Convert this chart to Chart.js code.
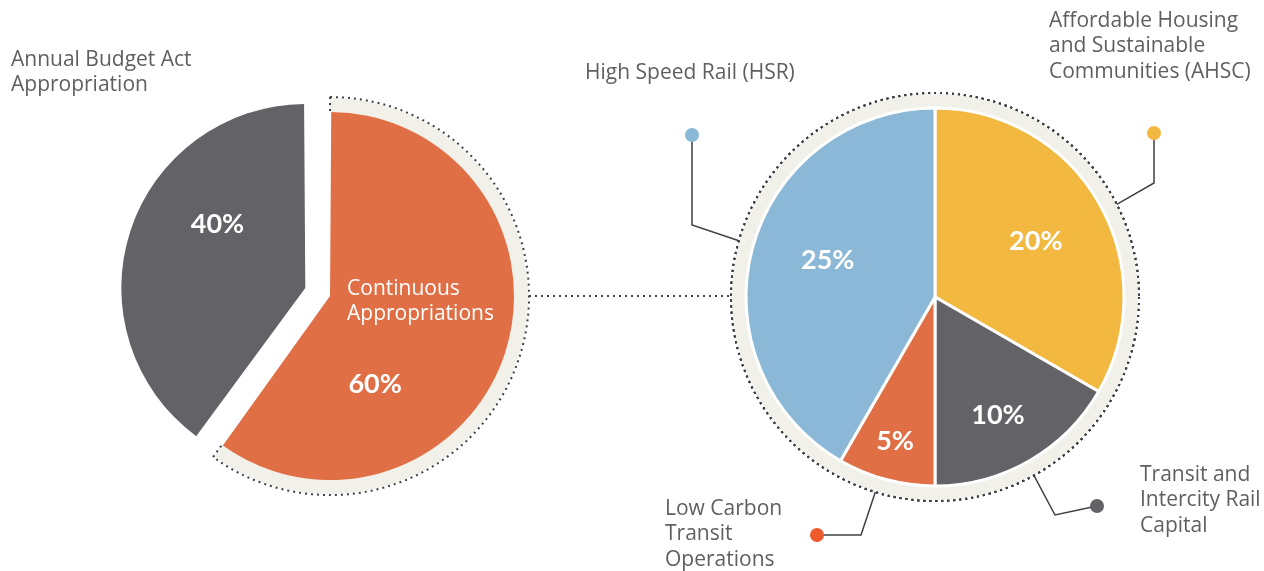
<!DOCTYPE html>
<html>
<head>
<meta charset="utf-8">
<title>Funding split</title>
<script src="https://cdn.jsdelivr.net/npm/chart.js@4.4.1/dist/chart.umd.min.js"></script>
<style>
  body { margin: 0; background: #fff; }
  #wrap { position: relative; width: 1264px; height: 571px; }
  #wrap canvas { position: absolute; left: 0; top: 0; }
</style>
</head>
<body>
<div id="wrap">
  <canvas id="leftPie" width="1264" height="571"></canvas>
  <canvas id="rightPie" width="1264" height="571"></canvas>
</div>
<script>
// overall split
const overallLabels = ['Continuous Appropriations', 'Annual Budget Act Appropriation'];
const overallValues = [60, 40];
const overallColors = ['#e06f45', '#636267'];

// breakdown of the continuous appropriations (clockwise from top)
const caLabels = ['Affordable Housing and Sustainable Communities (AHSC)', 'Transit and Intercity Rail Capital', 'Low Carbon Transit Operations', 'High Speed Rail (HSR)'];
const caValues = [20, 10, 5, 25];
const caColors = ['#f2b840', '#636267', '#e06f45', '#8bb8d6'];
const caDotColors = ['#f2b840', '#636267', '#ee5a2c', '#8bb8d6'];

const BEIGE = '#f1f0e9';
const INK = '#3e4046';
const TEXT = '#5f5f61';
const FONT = '"Open Sans", Lato, sans-serif';
const BOLD = 'Lato, "Open Sans", sans-serif';

const deg = Math.PI / 180;

// where Chart.js (v4) actually paints an arc that has an offset:
// it moves it by offset/4 and grows the radius by offset/4 * (1 - sin(circ))
function arcGeom(arc) {
  const o = (arc.options.offset || 0) / 4;
  const circ = arc.endAngle - arc.startAngle;
  const fix = 1 - Math.sin(Math.min(Math.PI, circ));
  const mid = (arc.startAngle + arc.endAngle) / 2;
  return { x: arc.x + Math.cos(mid) * o, y: arc.y + Math.sin(mid) * o, r: arc.outerRadius + o * fix };
}

function dotted(ctx) {
  ctx.strokeStyle = INK;
  ctx.lineWidth = 2;
  ctx.setLineDash([2, 4]);
}

const ringPlugin = {
  id: 'ring',
  beforeDatasetsDraw(chart, args, opts) {
    const ctx = chart.ctx;
    const arcs = chart.getDatasetMeta(0).data;
    const full = opts.slices.every(s => s);
    ctx.save();
    arcs.forEach((arc, i) => {
      if (!opts.slices[i]) return;
      const c = arcGeom(arc);
      const r0 = c.r, r1 = c.r + opts.width;
      const a0 = full ? 0 : arc.startAngle, a1 = full ? Math.PI * 2 : arc.endAngle;
      ctx.beginPath();
      ctx.arc(c.x, c.y, r1, a0, a1);
      ctx.arc(c.x, c.y, r0 - 1, a1, a0, true);
      ctx.closePath();
      ctx.fillStyle = BEIGE;
      ctx.fill();
      dotted(ctx);
      ctx.beginPath();
      ctx.arc(c.x, c.y, r1 + 1, a0, a1);
      ctx.stroke();
      if (!full) {
        [a0, a1].forEach(a => {
          ctx.beginPath();
          ctx.moveTo(c.x + Math.cos(a) * (r1 + 1), c.y + Math.sin(a) * (r1 + 1));
          ctx.lineTo(c.x + Math.cos(a) * r0, c.y + Math.sin(a) * r0);
          ctx.stroke();
        });
      }
      ctx.setLineDash([]);
    });
    ctx.restore();
  }
};

const textPlugin = {
  id: 'texts',
  afterDatasetsDraw(chart, args, opts) {
    const ctx = chart.ctx;
    const arcs = chart.getDatasetMeta(0).data;
    const values = chart.data.datasets[0].data;
    ctx.save();
    ctx.textBaseline = 'middle';
    // percentages inside slices
    arcs.forEach((arc, i) => {
      const c = arcGeom(arc);
      const p = opts.pct[i];
      const a = (arc.startAngle + arc.endAngle) / 2 + p[0] * deg;
      const r = c.r * p[1];
      ctx.fillStyle = '#fff';
      ctx.font = 'bold 27px ' + BOLD;
      ctx.textAlign = 'center';
      ctx.fillText(values[i] + '%', c.x + Math.cos(a) * r, c.y + Math.sin(a) * r);
    });
    // white caption inside a slice
    (opts.inner || []).forEach(t => {
      const c = arcGeom(arcs[t.slice]);
      ctx.fillStyle = '#fff';
      ctx.font = '21px ' + FONT;
      ctx.textAlign = 'left';
      t.lines.forEach((ln, k) => ctx.fillText(ln, c.x + t.dx, c.y + t.dy + k * 25));
    });
    // leader lines with dots
    (opts.leaders || []).forEach(l => {
      const arc = arcs[l.slice];
      const c = arcGeom(arc);
      const a = (arc.startAngle + arc.endAngle) / 2 + l.da * deg;
      const r = c.r + opts.ringWidth + 1;
      ctx.strokeStyle = INK;
      ctx.lineWidth = 1.5;
      ctx.beginPath();
      ctx.moveTo(c.x + Math.cos(a) * r, c.y + Math.sin(a) * r);
      ctx.lineTo(l.elbow[0], l.elbow[1]);
      ctx.lineTo(l.dot[0], l.dot[1]);
      ctx.stroke();
      ctx.fillStyle = caDotColors[l.slice];
      ctx.beginPath();
      ctx.arc(l.dot[0], l.dot[1], 7, 0, Math.PI * 2);
      ctx.fill();
    });
    // outside captions
    (opts.captions || []).forEach(t => {
      ctx.fillStyle = TEXT;
      ctx.font = '21px ' + FONT;
      ctx.textAlign = 'left';
      t.lines.forEach((ln, k) => ctx.fillText(ln, t.x, t.y + k * 25.5));
    });
    // dotted connector between the two pies
    if (opts.connectFrom) {
      const other = arcGeom(Chart.getChart(opts.connectFrom).getDatasetMeta(0).data[0]);
      const me = arcGeom(arcs[0]);
      dotted(ctx);
      ctx.beginPath();
      ctx.moveTo(other.x + other.r + opts.otherRing + 1, other.y);
      ctx.lineTo(me.x - me.r - opts.ringWidth - 1, other.y);
      ctx.stroke();
    }
    ctx.restore();
  }
};

const leftChart = new Chart(document.getElementById('leftPie'), {
  type: 'pie',
  data: {
    labels: overallLabels,
    datasets: [{
      data: overallValues,
      backgroundColor: overallColors,
      borderWidth: 0,
      offset: [30.4, 73.6],
      radius: 176.4
    }]
  },
  options: {
    responsive: false,
    animation: false,
    events: [],
    layout: { padding: { left: 122.8, right: 741.2, top: 93.7, bottom: 77.3 } },
    plugins: {
      legend: { display: false },
      tooltip: { enabled: false },
      ring: { width: 14, slices: [true, false] },
      texts: {
        pct: [[45, 0.54], [18, 0.59]],
        inner: [{ slice: 0, dx: 17, dy: -7, lines: ['Continuous', 'Appropriations'] }],
        captions: [{ x: 11, y: 60, lines: ['Annual Budget Act', 'Appropriation'] }]
      }
    }
  },
  plugins: [ringPlugin, textPlugin]
});

const rightChart = new Chart(document.getElementById('rightPie'), {
  type: 'pie',
  data: {
    labels: caLabels,
    datasets: [{
      data: caValues,
      backgroundColor: caColors,
      borderColor: '#fff',
      borderWidth: 3,
      radius: 189
    }]
  },
  options: {
    responsive: false,
    animation: false,
    events: [],
    layout: { padding: { left: 735, right: 129, top: 97, bottom: 74 } },
    plugins: {
      legend: { display: false },
      tooltip: { enabled: false },
      ring: { width: 14, slices: [true, true, true, true] },
      texts: {
        ringWidth: 14,
        otherRing: 14,
        connectFrom: 'leftPie',
        pct: [[1, 0.61], [2, 0.71], [0.5, 0.79], [4, 0.60]],
        leaders: [
          { slice: 0, da: 3, elbow: [1154, 183], dot: [1154, 133] },
          { slice: 1, da: 1, elbow: [1055, 515], dot: [1097, 506] },
          { slice: 2, da: 2, elbow: [861, 535], dot: [817, 535] },
          { slice: 3, da: 1, elbow: [692, 225], dot: [692, 135] }
        ],
        captions: [
          { x: 1049, y: 21, lines: ['Affordable Housing', 'and Sustainable', 'Communities (AHSC)'] },
          { x: 1140, y: 475, lines: ['Transit and', 'Intercity Rail', 'Capital'] },
          { x: 665, y: 509, lines: ['Low Carbon', 'Transit', 'Operations'] },
          { x: 585, y: 73, lines: ['High Speed Rail (HSR)'] }
        ]
      }
    }
  },
  plugins: [ringPlugin, textPlugin]
});
</script>
</body>
</html>
